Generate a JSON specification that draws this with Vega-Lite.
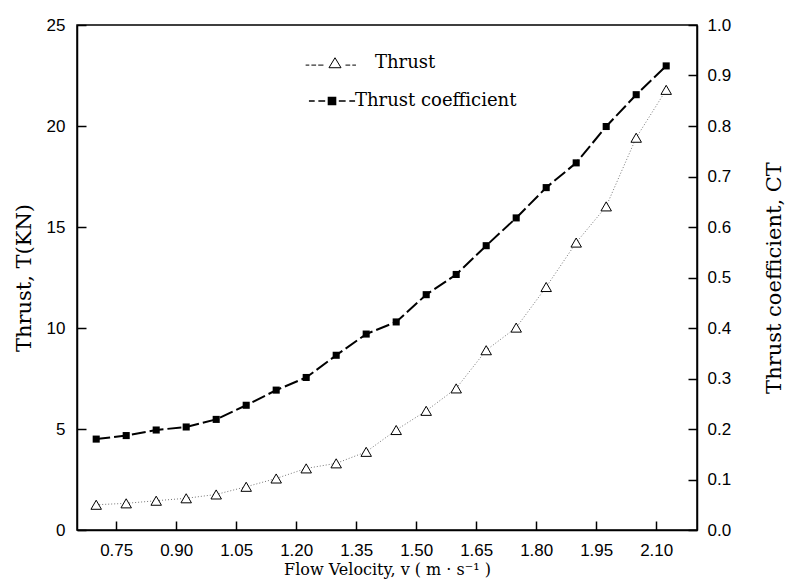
{
  "$schema": "https://vega.github.io/schema/vega-lite/v6.json",
  "width": 620,
  "height": 505,
  "autosize": {"type": "none"},
  "padding": {"left": 77, "top": 25, "right": 92, "bottom": 55},
  "background": "white",
  "config": {
    "view": {"stroke": "black", "strokeWidth": 1.5},
    "axis": {
      "domainColor": "black", "domainWidth": 1.5,
      "tickColor": "black", "tickWidth": 1.5, "tickSize": -9,
      "labelFont": "Liberation Sans", "labelFontSize": 17, "labelColor": "black",
      "titleFont": "DejaVu Serif", "titleFontWeight": "normal", "titleColor": "black",
      "grid": false
    },
    "legend": {
      "labelFont": "DejaVu Serif", "labelFontSize": 18, "labelColor": "black", "labelLimit": 0,
      "symbolSize": 110, "symbolOpacity": 1, "orient": "none"
    }
  },
  "data": {"values": [
    {"v": 0.700, "series": "Thrust", "value": 1.25},
    {"v": 0.775, "series": "Thrust", "value": 1.32},
    {"v": 0.850, "series": "Thrust", "value": 1.45},
    {"v": 0.925, "series": "Thrust", "value": 1.57},
    {"v": 1.000, "series": "Thrust", "value": 1.76},
    {"v": 1.075, "series": "Thrust", "value": 2.14},
    {"v": 1.150, "series": "Thrust", "value": 2.55},
    {"v": 1.225, "series": "Thrust", "value": 3.05},
    {"v": 1.300, "series": "Thrust", "value": 3.30},
    {"v": 1.375, "series": "Thrust", "value": 3.87},
    {"v": 1.450, "series": "Thrust", "value": 4.95},
    {"v": 1.525, "series": "Thrust", "value": 5.90},
    {"v": 1.600, "series": "Thrust", "value": 7.01},
    {"v": 1.675, "series": "Thrust", "value": 8.90},
    {"v": 1.750, "series": "Thrust", "value": 10.02},
    {"v": 1.825, "series": "Thrust", "value": 12.03},
    {"v": 1.900, "series": "Thrust", "value": 14.23},
    {"v": 1.975, "series": "Thrust", "value": 16.02},
    {"v": 2.050, "series": "Thrust", "value": 19.42},
    {"v": 2.125, "series": "Thrust", "value": 21.79},
    {"v": 0.700, "series": "Thrust coefficient", "value": 0.180},
    {"v": 0.775, "series": "Thrust coefficient", "value": 0.187},
    {"v": 0.850, "series": "Thrust coefficient", "value": 0.198},
    {"v": 0.925, "series": "Thrust coefficient", "value": 0.204},
    {"v": 1.000, "series": "Thrust coefficient", "value": 0.219},
    {"v": 1.075, "series": "Thrust coefficient", "value": 0.247},
    {"v": 1.150, "series": "Thrust coefficient", "value": 0.277},
    {"v": 1.225, "series": "Thrust coefficient", "value": 0.302},
    {"v": 1.300, "series": "Thrust coefficient", "value": 0.346},
    {"v": 1.375, "series": "Thrust coefficient", "value": 0.388},
    {"v": 1.450, "series": "Thrust coefficient", "value": 0.412},
    {"v": 1.525, "series": "Thrust coefficient", "value": 0.466},
    {"v": 1.600, "series": "Thrust coefficient", "value": 0.506},
    {"v": 1.675, "series": "Thrust coefficient", "value": 0.563},
    {"v": 1.750, "series": "Thrust coefficient", "value": 0.618},
    {"v": 1.825, "series": "Thrust coefficient", "value": 0.678},
    {"v": 1.900, "series": "Thrust coefficient", "value": 0.727},
    {"v": 1.975, "series": "Thrust coefficient", "value": 0.799},
    {"v": 2.050, "series": "Thrust coefficient", "value": 0.862},
    {"v": 2.125, "series": "Thrust coefficient", "value": 0.919}
  ]},
  "encoding": {
    "x": {
      "field": "v", "type": "quantitative",
      "scale": {"domain": [0.652, 2.202], "nice": false, "zero": false},
      "axis": {
        "values": [0.75, 0.9, 1.05, 1.2, 1.35, 1.5, 1.65, 1.8, 1.95, 2.1],
        "format": ".2f", "labelPadding": 21,
        "title": "Flow Velocity, v ( m · s⁻¹ )", "titleFontSize": 16, "titlePadding": 3
      }
    }
  },
  "layer": [
    {
      "transform": [{"filter": "datum.series == 'Thrust'"}],
      "encoding": {
        "y": {
          "field": "value", "type": "quantitative",
          "scale": {"domain": [0, 25], "nice": false},
          "axis": {
            "values": [0, 5, 10, 15, 20, 25], "labelPadding": 21,
            "title": "Thrust, T(KN)", "titleFontSize": 21, "titlePadding": 12
          }
        }
      },
      "layer": [
        {"mark": {"type": "line", "color": "#777777", "strokeWidth": 1, "strokeDash": [1, 2]}, "encoding": {}},
        {"mark": {"type": "point", "shape": "triangle-up", "filled": true, "fill": "white", "stroke": "black", "strokeWidth": 1, "size": 110, "opacity": 1}, "encoding": {}},
        {
          "mark": {"type": "point", "filled": true, "fill": "white", "stroke": "black", "strokeWidth": 1, "size": 110, "opacity": 0},
          "encoding": {
            "shape": {"field": "series", "type": "nominal",
              "scale": {"domain": ["Thrust"], "range": ["M-1.15,0.9L0,-1L1.15,0.9Z M-5.6,0.4H-4.9 M-4.5,0.4H-3.6 M-3.2,0.4H-2.2 M2.0,0.4H2.9 M3.3,0.4H4.0"]},
              "legend": {"title": null, "legendX": 249, "legendY": 29, "labelOffset": 31, "symbolStrokeWidth": 1}
            }
          }
        }
      ]
    },
    {
      "transform": [{"filter": "datum.series == 'Thrust coefficient'"}],
      "encoding": {
        "y": {
          "field": "value", "type": "quantitative",
          "scale": {"domain": [0, 1], "nice": false},
          "axis": {
            "orient": "right",
            "values": [0, 0.1, 0.2, 0.3, 0.4, 0.5, 0.6, 0.7, 0.8, 0.9, 1.0],
            "format": ".1f", "labelPadding": 19,
            "title": "Thrust coefficient, CT", "titleFontSize": 21, "titleAngle": 270, "titlePadding": 54
          }
        }
      },
      "layer": [
        {"mark": {"type": "line", "color": "black", "strokeWidth": 2, "strokeDash": [14, 4]}, "encoding": {}},
        {"mark": {"type": "point", "shape": "square", "filled": true, "color": "black", "size": 50, "opacity": 1}, "encoding": {}},
        {
          "mark": {"type": "point", "filled": true, "fill": "black", "stroke": "black", "strokeWidth": 1.5, "size": 50, "opacity": 0},
          "encoding": {
            "shape": {"field": "series", "type": "nominal",
              "scale": {"domain": ["Thrust coefficient"], "range": ["M-0.68,-0.68H0.68V0.68H-0.68Z M-4.4,0H-3.3 M-2.6,0H-1.3 M1.3,0H2.6 M3.3,0H4.4"]},
              "legend": {"title": null, "legendX": 246, "legendY": 67, "labelOffset": 14, "symbolStrokeWidth": 1.5}
            }
          }
        }
      ]
    }
  ],
  "resolve": {"scale": {"y": "independent", "shape": "independent"}, "legend": {"shape": "independent"}}
}
